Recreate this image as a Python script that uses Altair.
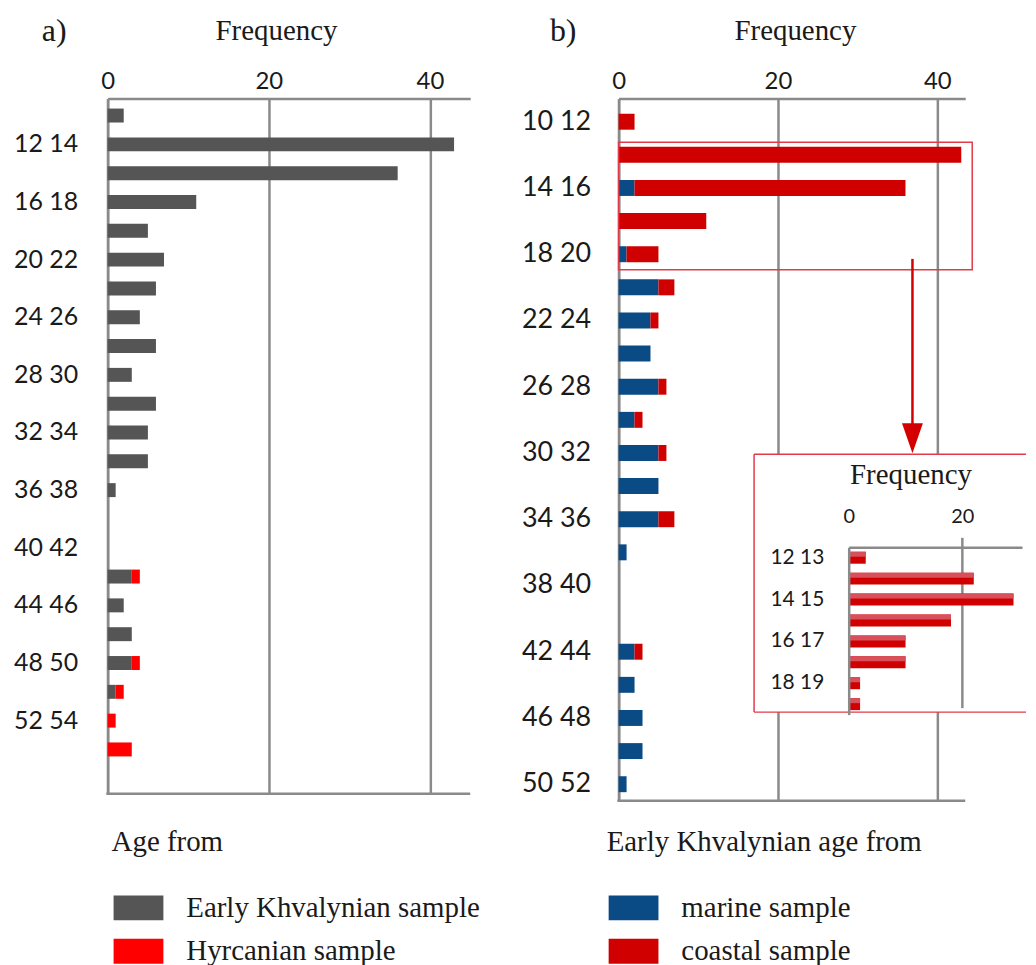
import altair as alt
import pandas as pd

# ---------------- data ----------------
# Panel a: age bins (ka), Early Khvalynian and Hyrcanian samples
cats_a = ["10 12", "12 14", "14 16", "16 18", "18 20", "20 22", "22 24", "24 26",
          "26 28", "28 30", "30 32", "32 34", "34 36", "36 38", "38 40", "40 42",
          "42 44", "44 46", "46 48", "48 50", "50 52", "52 54", "54 56"]
early_a = [2, 43, 36, 11, 5, 7, 6, 4, 6, 3, 6, 5, 5, 1, 0, 0, 3, 2, 3, 3, 1, 0, 0]
hyrc_a = [0, 0, 0, 0, 0, 0, 0, 0, 0, 0, 0, 0, 0, 0, 0, 0, 1, 0, 0, 1, 1, 1, 3]
labels_a = ["12 14", "16 18", "20 22", "24 26", "28 30", "32 34", "36 38",
            "40 42", "44 46", "48 50", "52 54"]
series_a = ["Early Khvalynian sample", "Hyrcanian sample"]
colors_a = ["#555555", "#ff0000"]

# Panel b: Early Khvalynian age bins, marine and coastal samples
cats_b = ["10 12", "12 14", "14 16", "16 18", "18 20", "20 22", "22 24", "24 26",
          "26 28", "28 30", "30 32", "32 34", "34 36", "36 38", "38 40", "40 42",
          "42 44", "44 46", "46 48", "48 50", "50 52"]
marine_b = [0, 0, 2, 0, 1, 5, 4, 4, 5, 2, 5, 5, 5, 1, 0, 0, 2, 2, 3, 3, 1]
coastal_b = [2, 43, 34, 11, 4, 2, 1, 0, 1, 1, 1, 0, 2, 0, 0, 0, 1, 0, 0, 0, 0]
labels_b = ["10 12", "14 16", "18 20", "22 24", "26 28", "30 32", "34 36",
            "38 40", "42 44", "46 48", "50 52"]
series_b = ["marine sample", "coastal sample"]
colors_b = ["#0a4a85", "#d00000"]

# Inset: 1-ka bins 12-20
cats_i = ["12 13", "13 14", "14 15", "15 16", "16 17", "17 18", "18 19", "19 20"]
vals_i = [3, 22, 29, 18, 10, 10, 2, 2]
labels_i = ["12 13", "14 15", "16 17", "18 19"]

# ---------------- style ----------------
SERIF = "Liberation Serif"
SANS = "Lato"
GRID = "#8a8a8a"
TXT = "#1a1a1a"
FRAME = "#e23a48"


def long_df(cats, names, seriesvals):
    rows = []
    for si, (name, vals) in enumerate(zip(names, seriesvals)):
        for c, v in zip(cats, vals):
            rows.append({"cat": c, "series": name, "value": v, "ord": si})
    return pd.DataFrame(rows)


df_a = long_df(cats_a, series_a, [early_a, hyrc_a])
df_b = long_df(cats_b, series_b, [marine_b, coastal_b])
df_i = pd.DataFrame({"cat": cats_i, "value": vals_i})
one = pd.DataFrame({"k": [0]})


def legend(title, lx, ly):
    return alt.Legend(
        orient="none", legendX=lx, legendY=ly, direction="vertical", padding=0,
        title=title, titleFont=SERIF, titleFontSize=29, titleFontWeight="normal",
        titleColor=TXT, titlePadding=37, titleLimit=600,
        labelFont=SERIF, labelFontSize=29, labelColor=TXT, labelOffset=46,
        labelLimit=600, symbolType="M-1,-1H3V1H-1Z", symbolSize=625,
        symbolStrokeWidth=0, symbolOpacity=1, rowPadding=13.5,
    )


def x_axis(title_x):
    return alt.Axis(
        orient="top", values=[0, 20, 40], grid=True, gridColor=GRID, gridWidth=2.5,
        domain=True, domainColor=GRID, domainWidth=2.5, ticks=False,
        labelFont=SANS, labelFontSize=24,
        labelColor=TXT, labelPadding=5, labelFlush=False, title="Frequency",
        titleFont=SERIF, titleFontSize=29, titleFontWeight="normal", titleColor=TXT,
        titleX=title_x, titleY=-59, titleBaseline="alphabetic",
    )


def y_axis(values, size, pad):
    return alt.Axis(
        values=values, ticks=False, domain=True, domainColor=GRID, domainWidth=2.5,
        labelFont=SANS, labelFontSize=size, labelColor=TXT, labelPadding=pad,
        grid=False, title=None,
    )


def bottom_line(w, h):
    return alt.Chart(one).mark_rule(color=GRID, strokeWidth=2.5).encode(
        x=alt.value(-1.25), x2=alt.value(w), y=alt.value(h))


# ---------------- panel a ----------------
WA, HA, XMA = 364, 698, 45
bars_a = alt.Chart(df_a).mark_bar(size=14).encode(
    x=alt.X("value:Q", stack="zero",
            scale=alt.Scale(domain=[0, XMA], nice=False), axis=x_axis(169)),
    y=alt.Y("cat:N", sort=cats_a,
            scale=alt.Scale(domain=cats_a, paddingInner=0, paddingOuter=0.565, align=0.08),
            axis=y_axis(labels_a, 25, 30)),
    color=alt.Color("series:N", scale=alt.Scale(domain=series_a, range=colors_a),
                    legend=legend("Age from", 4, 732)),
    order=alt.Order("ord:Q", sort="ascending"),
)
bot_a = bottom_line(WA, HA)
tag_a = alt.Chart(one).mark_text(text="a)", font=SERIF, fontSize=32, align="left",
                                 baseline="alphabetic", color=TXT).encode(
    x=alt.value(-66), y=alt.value(-58))
panel_a = alt.layer(bars_a, bot_a, tag_a).properties(width=WA, height=HA)

# ---------------- panel b ----------------
WB, HB, XMB = 348, 705, 43.5
D = 4  # vertical shift of annotations
bars_b = alt.Chart(df_b).mark_bar(size=16).encode(
    x=alt.X("value:Q", stack="zero",
            scale=alt.Scale(domain=[0, XMB], nice=False), axis=x_axis(177)),
    y=alt.Y("cat:N", sort=cats_b,
            scale=alt.Scale(domain=cats_b, paddingInner=0, paddingOuter=0.1, align=1),
            axis=y_axis(labels_b, 27, 28)),
    color=alt.Color("series:N", scale=alt.Scale(domain=series_b, range=colors_b),
                    legend=legend("Early Khvalynian age from", -12, 732)),
    order=alt.Order("ord:Q", sort="ascending"),
)
bot_b = bottom_line(WB, HB)
tag_b = alt.Chart(one).mark_text(text="b)", font=SERIF, fontSize=32, align="left",
                                 baseline="alphabetic", color=TXT).encode(
    x=alt.value(-69), y=alt.value(-58))
# highlight box around 12-20 ka bins and arrow to inset
hl_box = alt.Chart(one).mark_rect(fillOpacity=0, stroke=FRAME, strokeWidth=1.5).encode(
    x=alt.value(0), x2=alt.value(355), y=alt.value(44), y2=alt.value(172))
arrow = alt.Chart(one).mark_rule(color="#d40000", strokeWidth=2.5).encode(
    x=alt.value(295), y=alt.value(161), y2=alt.value(325 + D))
head = alt.Chart(one).mark_point(shape="M-0.7,-1L0.7,-1L0,1Z", size=900, filled=True,
                                 color="#d40000", opacity=1).encode(
    x=alt.value(295), y=alt.value(337 + D))
frame_fill = alt.Chart(one).mark_rect(color="white").encode(
    x=alt.value(136), x2=alt.value(409), y=alt.value(353 + D), y2=alt.value(612 + D))
frame_top = alt.Chart(one).mark_rule(color=FRAME, strokeWidth=1.5).encode(
    x=alt.value(136), x2=alt.value(409), y=alt.value(353 + D))
frame_bot = alt.Chart(one).mark_rule(color=FRAME, strokeWidth=1.5).encode(
    x=alt.value(136), x2=alt.value(409), y=alt.value(612 + D))
frame_left = alt.Chart(one).mark_rule(color=FRAME, strokeWidth=1.5).encode(
    x=alt.value(136), y=alt.value(353 + D), y2=alt.value(612 + D))
main_b = alt.layer(bars_b, bot_b, tag_b, hl_box, arrow, head,
                   frame_fill, frame_top, frame_bot, frame_left)

# inset
xi = alt.X("value:Q", scale=alt.Scale(domain=[0, 30.5], range=[231, 405], nice=False),
           axis=alt.Axis(orient="top", offset=-(446.5 + D), values=[0, 20], grid=False,
                         ticks=False, domain=True, domainColor=GRID, domainWidth=2.5,
                         labelFont=SANS, labelFontSize=20, labelColor=TXT,
                         labelPadding=21, labelFlush=False, title="Frequency",
                         titleFont=SERIF, titleFontSize=29, titleFontWeight="normal",
                         titleColor=TXT, titleX=293, titleY=-64.5,
                         titleBaseline="alphabetic", zindex=1))
yi = alt.Y("cat:N", sort=cats_i,
           scale=alt.Scale(domain=cats_i, range=[446.5 + D, 614.5 + D],
                           paddingInner=0, paddingOuter=0),
           axis=alt.Axis(orient="left", offset=-231, values=labels_i, ticks=False,
                         domain=True, domainColor=GRID, domainWidth=2.5, labelFont=SANS,
                         labelFontSize=21, labelColor=TXT, labelPadding=25, grid=False,
                         title=None, zindex=1))
grid_i = alt.Chart(one).mark_rule(color=GRID, strokeWidth=2.5).encode(
    x=alt.datum(20), y=alt.value(437 + D), y2=alt.value(608 + D))
bars_i = alt.Chart(df_i).mark_bar(size=12, color="#d00000").encode(x=xi, y=yi)
shine_i = alt.Chart(df_i).mark_bar(size=5, color="#d8505c", yOffset=-3.5).encode(
    x=alt.X("value:Q"), y=alt.Y("cat:N", sort=cats_i))
inset = alt.layer(grid_i, bars_i, shine_i)

panel_b = alt.layer(main_b, inset).resolve_scale(
    x="independent", y="independent").properties(width=WB, height=HB)

chart = alt.hconcat(panel_a, panel_b, spacing=39).resolve_scale(
    color="independent").properties(
    padding={"left": 5, "top": 4, "right": 0, "bottom": 0}
).configure_view(stroke="transparent")

chart.save("out.html", embed_options={"renderer": "svg", "actions": False})
